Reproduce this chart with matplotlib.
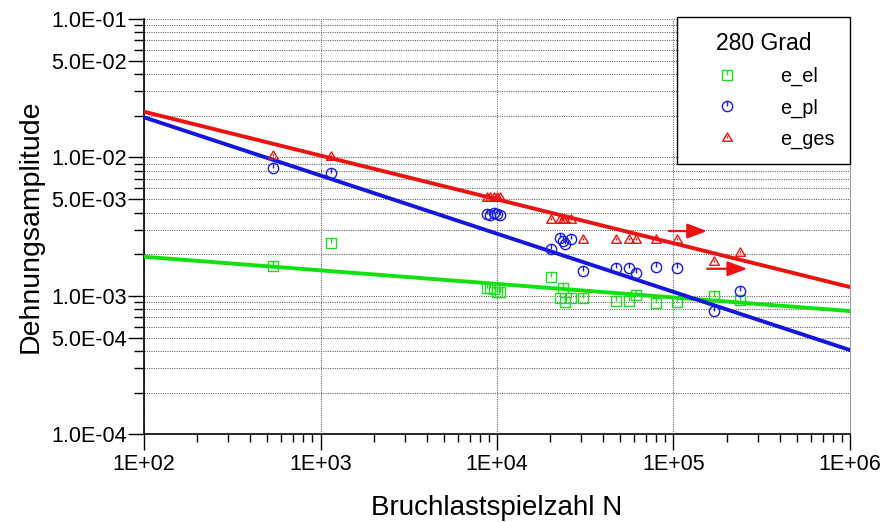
import numpy as np
import matplotlib
matplotlib.use("Agg")
import matplotlib.pyplot as plt
from matplotlib.path import Path
from matplotlib.ticker import FixedLocator, NullFormatter

plt.rcParams['font.family'] = ['Liberation Sans', 'DejaVu Sans']

# Bruchlastspielzahl der Proben
N = [538, 1147, 8770, 9125, 9570, 9970, 10380,
     20220, 22750, 23650, 24290, 26270, 30720,
     47230, 55960, 61330, 79600, 104660, 169600, 238200]

e_el = [0.001642, 0.002406, 0.001138, 0.001138, 0.001120, 0.001065, 0.001065,
        0.001367, 0.000964, 0.001138, 0.000902, 0.000964, 0.000964,
        0.000917, 0.000917, 0.001013, 0.000887, 0.000902, 0.000997, 0.000933]

e_pl = [0.008386, 0.007714, 0.003901, 0.003837, 0.003966, 0.003901, 0.003837,
        0.002178, 0.002616, 0.002489, 0.002367, 0.002573, 0.001511,
        0.001589, 0.001589, 0.001462, 0.001615, 0.001589, 0.000777, 0.001083]

e_ges = [0.010235, 0.010067, 0.005088, 0.005088, 0.005088, 0.005088, 0.005088,
         0.003529, 0.003529, 0.003529, 0.003529, 0.003529, 0.002530,
         0.002530, 0.002530, 0.002530, 0.002530, 0.002530, 0.001755, 0.002039]

# Ausgleichsgeraden (Endpunkte)
fit_N = [1e2, 1e6]
fit_el = [0.001916, 0.000777]
fit_pl = [0.01949, 0.000406]
fit_ges = [0.02139, 0.001158]

# Durchlaeufer-Pfeile (Start, Spitze, Hoehe)
pfeil_start = [94200, 155000]
pfeil_ende = [155000, 262000]
pfeil_y = [0.00294, 0.00157]

gruen = '#22dd22'
blau = '#1a1ae8'
rot = '#ee1111'


def marker_mit_strich(base, oben):
    verts = np.vstack([base.vertices, [[0, oben], [0, 0]]])
    codes = list(base.codes) + [Path.MOVETO, Path.LINETO]
    return Path(verts, codes)


quadrat = Path([(-0.5, -0.5), (0.5, -0.5), (0.5, 0.5), (-0.5, 0.5), (-0.5, -0.5)],
               [Path.MOVETO, Path.LINETO, Path.LINETO, Path.LINETO, Path.CLOSEPOLY])
m_el = marker_mit_strich(quadrat, 0.5)
m_pl = marker_mit_strich(Path.unit_circle(), 1.0)
m_ges = marker_mit_strich(Path([(-0.87, -0.5), (0.87, -0.5), (0, 1), (-0.87, -0.5)],
                               [Path.MOVETO, Path.LINETO, Path.LINETO, Path.CLOSEPOLY]), 0.4)

fig = plt.figure(figsize=(8.82, 5.22), dpi=100)
ax = fig.add_axes([0.1633, 0.168, 0.8004, 0.7956])

ax.set_xscale('log')
ax.set_yscale('log')
ax.set_xlim(1e2, 1e6)
ax.set_ylim(1e-4, 1e-1)

# Gitter
y_major = [1e-4, 5e-4, 1e-3, 5e-3, 1e-2, 5e-2, 1e-1]
y_minor = [m * 10.0 ** d for d in (-4, -3, -2) for m in (2, 3, 4, 6, 7, 8, 9)]
ax.yaxis.set_major_locator(FixedLocator(y_major))
ax.yaxis.set_minor_locator(FixedLocator(y_minor))
ax.yaxis.set_minor_formatter(NullFormatter())
ax.set_yticklabels([f"{v:.1E}" for v in y_major])

x_major = [1e2, 1e3, 1e4, 1e5, 1e6]
x_minor = [m * 10.0 ** d for d in (2, 3, 4, 5) for m in range(2, 10)]
ax.xaxis.set_major_locator(FixedLocator(x_major))
ax.xaxis.set_minor_locator(FixedLocator(x_minor))
ax.xaxis.set_minor_formatter(NullFormatter())
ax.set_xticklabels(["1E+%02d" % int(np.log10(v)) for v in x_major])

grid_kw = dict(color='#606060', linestyle=(0, (1, 1.2)), linewidth=0.75)
ax.grid(True, which='both', axis='y', **grid_kw)
ax.grid(True, which='major', axis='x', **grid_kw)
ax.set_axisbelow(True)

ax.tick_params(which='major', direction='out', length=11.5, width=1, labelsize=15.5)
ax.tick_params(axis='y', which='major', pad=1)
ax.tick_params(axis='x', which='major', pad=3)
ax.tick_params(axis='x', which='minor', direction='out', length=6, width=1)
ax.tick_params(axis='y', which='minor', direction='out', length=7.5, width=1)

ax.spines['top'].set_visible(False)
ax.spines['left'].set_linewidth(1.2)
ax.spines['bottom'].set_linewidth(1.2)
ax.spines['right'].set_linewidth(0.6)
ax.spines['right'].set_color('#888888')

# Ausgleichsgeraden
ax.plot(fit_N, fit_el, color='#11e011', lw=2.8, zorder=3)
ax.plot(fit_N, fit_pl, color='#1515e0', lw=2.8, zorder=3)
ax.plot(fit_N, fit_ges, color='#ee1111', lw=2.8, zorder=3)

# Messpunkte
mk = dict(linestyle='none', markerfacecolor='none', markeredgewidth=1.0, zorder=4)
ax.plot(N, e_el, marker=m_el, color=gruen, markersize=7.4, label='e_el', **mk)
ax.plot(N, e_pl, marker=m_pl, color=blau, markersize=7.4, label='e_pl', **mk)
ax.plot(N, e_ges, marker=m_ges, color=rot, markersize=8.0, label='e_ges', **mk)

for x0, x1, y in zip(pfeil_start, pfeil_ende, pfeil_y):
    ax.annotate('', xy=(x1, y), xytext=(x0, y),
                arrowprops=dict(arrowstyle='-|>,head_length=0.8,head_width=0.3',
                                color=rot, lw=1.6, mutation_scale=15,
                                shrinkA=0, shrinkB=0), zorder=5)

leg = ax.legend(loc='upper right', bbox_to_anchor=(1.0, 1.004), borderaxespad=0,
                title='280 Grad', fontsize=14.3, title_fontsize=16.5,
                frameon=True, fancybox=False, edgecolor='black', framealpha=1,
                handlelength=3.5, handletextpad=0.95, labelspacing=0.6,
                borderpad=0.75, markerscale=1.0)
leg.get_frame().set_linewidth(1.0)
leg.set_zorder(10)

ax.set_xlabel('Bruchlastspielzahl N', fontsize=20, labelpad=14)
ax.set_ylabel('Dehnungsamplitude', fontsize=20.5, labelpad=5)

fig.savefig('out.png', dpi=100)
